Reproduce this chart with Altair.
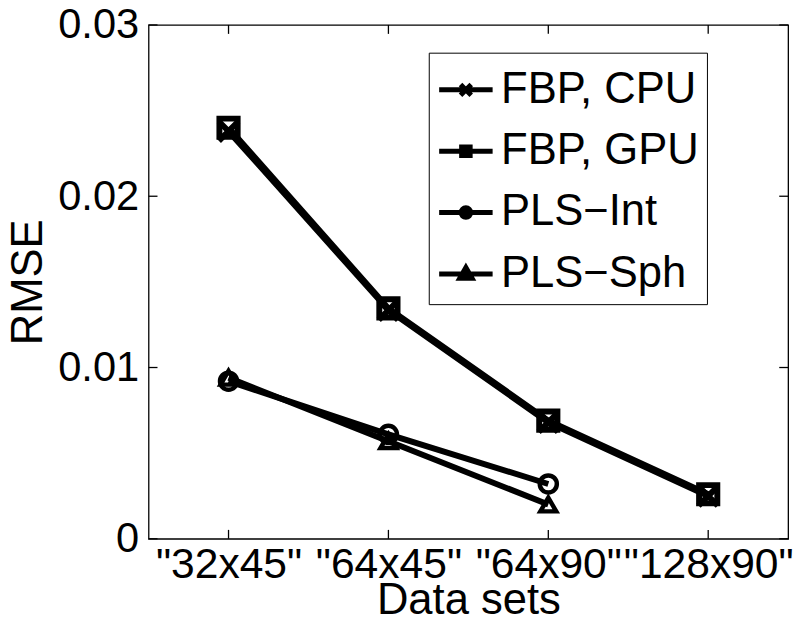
import altair as alt
import pandas as pd

categories = ['"32x45"', '"64x45"', '"64x90"', '"128x90"']
series_names = ["FBP, CPU", "FBP, GPU", "PLS\u2212Int", "PLS\u2212Sph"]
fbp_cpu = [0.0238, 0.01335, 0.0068, 0.0025]
fbp_gpu = [0.0240, 0.01345, 0.0069, 0.0026]
pls_int = [0.0092, 0.0061, 0.0032]
pls_sph = [0.0094, 0.0057, 0.0020]
y_ticks = [0, 0.01, 0.02, 0.03]

FONT = "Liberation Sans"
W, H = 646, 519

rows = []
for name, vals in zip(series_names, [fbp_cpu, fbp_gpu, pls_int, pls_sph]):
    for i, (c, v) in enumerate(zip(categories, vals)):
        rows.append({"dataset": c, "series": name, "rmse": v, "idx": i,
                     "group": "FBP" if name.startswith("FBP") else "PLS"})
df = pd.DataFrame(rows)

x_enc = alt.X(
    "dataset:N",
    sort=categories,
    scale=alt.Scale(type="point", padding=0.5, domain=categories),
    axis=alt.Axis(
        title="Data sets", ticks=False, tickSize=0, domain=False, grid=False,
        labelFont=FONT, labelFontSize=43, labelColor="black", labelAngle=0,
        labelBaseline="alphabetic", labelPadding=39, labelLimit=0, labelOverlap=False,
        titleFont=FONT, titleFontSize=44, titleFontWeight="normal", titleColor="black",
        titleX=323, titleY=75, titleBaseline="alphabetic", titleAlign="center",
    ),
)
y_enc = alt.Y(
    "rmse:Q",
    scale=alt.Scale(domain=[0, 0.03], nice=False, zero=True),
    axis=alt.Axis(
        title="RMSE", values=y_ticks, ticks=False, tickSize=0, domain=False, grid=False,
        labelExpr="datum.value == 0 ? '0' : format(datum.value, '.2f')",
        labelFont=FONT, labelFontSize=42, labelColor="black",
        labelPadding=10, labelAlign="right", labelBaseline="middle",
        titleFont=FONT, titleFontSize=44, titleFontWeight="normal", titleColor="black",
        titleX=-108, titleY=259.5, titleAngle=-90, titleAlign="center",
        titleBaseline="alphabetic",
    ),
)

lines = alt.Chart(df).mark_line(color="black", strokeCap="butt", strokeJoin="miter").encode(
    x=x_enc, y=y_enc,
    detail="series:N",
    order=alt.Order("idx:Q"),
    strokeWidth=alt.StrokeWidth("series:N", scale=alt.Scale(domain=series_names, range=[6, 6, 4.5, 4.5]), legend=None),
)

marker_shapes = ["M-1,-1L1,1M-1,1L1,-1", "square", "circle", "triangle-up"]
shape_enc = alt.Shape("series:N", scale=alt.Scale(domain=series_names, range=marker_shapes), legend=None)
size_enc = alt.Size("series:N", scale=alt.Scale(domain=series_names, range=[380, 256, 300, 470]), legend=None)

points_fbp = alt.Chart(df).transform_filter(alt.datum.group == "FBP").mark_point(
    filled=False, color="black", strokeWidth=6, opacity=1
).encode(x=x_enc, y=y_enc, shape=shape_enc, size=size_enc)
points_pls = alt.Chart(df).transform_filter(alt.datum.group == "PLS").mark_point(
    filled=False, color="black", strokeWidth=4.5, opacity=1
).encode(x=x_enc, y=y_enc, shape=shape_enc, size=size_enc)

legend_shapes = [
    "M-1,0H1M-0.2,-0.2L0.2,0.2M-0.2,0.2L0.2,-0.2",
    "M-1,0H1M-0.16,-0.16H0.16V0.16H-0.16Z",
    "M-1,0H1M-0.18,0A0.18,0.18,0,1,0,0.18,0A0.18,0.18,0,1,0,-0.18,0",
    "M-1,0H1M0,-0.24L0.23,0.16L-0.23,0.16Z",
]
legend_layer = alt.Chart(df).transform_filter("false").mark_point(
    filled=False, color="black", strokeWidth=5, opacity=1
).encode(
    shape=alt.Shape(
        "series:N",
        sort=series_names,
        scale=alt.Scale(domain=series_names, range=legend_shapes),
        legend=alt.Legend(
            title=None, orient="none", legendX=283, legendY=28,
            strokeColor="black", fillColor="white", padding=8,
            labelFont=FONT, labelFontSize=44, labelColor="black", labelLimit=0,
            labelOffset=6, rowPadding=10,
            symbolSize=2916, symbolStrokeWidth=5, symbolStrokeColor="black",
            symbolFillColor="transparent", symbolOpacity=1,
        ),
    ),
)

ytick_df = pd.DataFrame({"rmse": y_ticks})
xtick_df = pd.DataFrame({"dataset": categories})
tick_l = alt.Chart(ytick_df).mark_rule(color="black", strokeWidth=1.3).encode(
    y=y_enc, x=alt.value(0), x2=alt.value(9))
tick_r = alt.Chart(ytick_df).mark_rule(color="black", strokeWidth=1.3).encode(
    y=y_enc, x=alt.value(W - 9), x2=alt.value(W))
tick_b = alt.Chart(xtick_df).mark_rule(color="black", strokeWidth=1.3).encode(
    x=x_enc, y=alt.value(H), y2=alt.value(H - 9))
tick_t = alt.Chart(xtick_df).mark_rule(color="black", strokeWidth=1.3).encode(
    x=x_enc, y=alt.value(0), y2=alt.value(9))

chart = alt.layer(lines, points_fbp, points_pls, tick_l, tick_r, tick_b, tick_t, legend_layer).resolve_scale(
    shape="independent"
).properties(
    width=W, height=H,
    autosize=alt.AutoSizeParams(type="none"),
    padding={"left": 142, "top": 14, "right": 14, "bottom": 89},
    background="white",
).configure_view(stroke="black", strokeWidth=1.3)

chart.save("out.html", embed_options={"renderer": "svg", "actions": False})
